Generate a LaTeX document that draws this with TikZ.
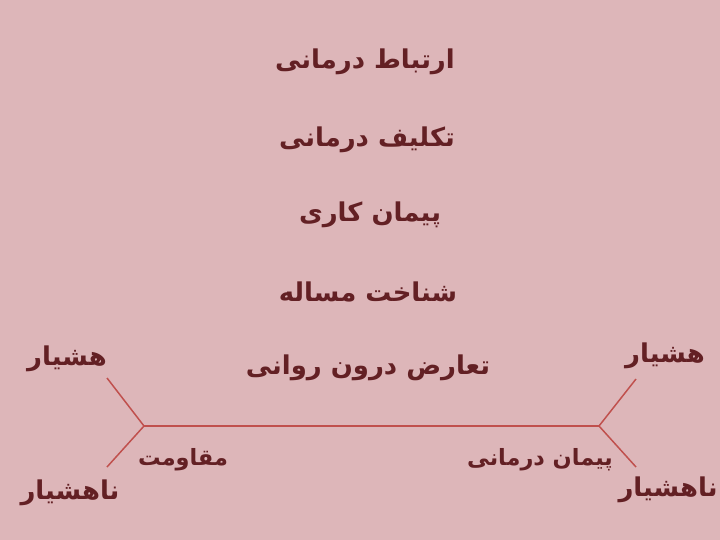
\documentclass[tikz,border=0pt]{standalone}
\usepackage{fontspec}
\newfontfamily\arabicfont[Script=Arabic]{DejaVu Sans}
\TeXXeTstate=1
\usepackage{tikz}
\usetikzlibrary{calc}
\definecolor{bgpink}{HTML}{DDB6B9}
\definecolor{inkred}{HTML}{632024}
\definecolor{linered}{HTML}{C0504D}
\tikzset{
  fa/.style={text=inkred,font=\arabicfont\bfseries\fontsize{26}{30}\selectfont,inner sep=2pt},
  fasmall/.style={fa,font=\arabicfont\bfseries\fontsize{22.5}{26}\selectfont},
  fishline/.style={draw=linered,line width=1.5pt}
}
\newcommand{\rtl}[1]{\beginR #1\endR}

\begin{document}
\begin{tikzpicture}[x=1bp,y=-1bp]
% page
\fill[bgpink] (0,0) rectangle (720,540);
\useasboundingbox (0,0) rectangle (720,540);

% list of steps
\node[fa] (ertebat) at (365,62) {\rtl{ارتباط درمانی}};
\node[fa] (taklif) at (367,140) {\rtl{تکلیف درمانی}};
\node[fa] (peyman) at (370,215) {\rtl{پیمان کاری}};
\node[fa] (shenakht) at (368,292) {\rtl{شناخت مساله}};
\node[fa] (taaroz) at (368,368) {\rtl{تعارض درون روانی}};

% fish skeleton
\coordinate (L) at (144,426);
\coordinate (R) at (599,426);
\coordinate (Lup) at (107,378);
\coordinate (Ldown) at (107,467);
\coordinate (Rup) at (636,379);
\coordinate (Rdown) at (636,467);
\draw[fishline] (Lup) -- (L) -- (Ldown);
\draw[fishline] (Rup) -- (R) -- (Rdown);
\draw[fishline] (L) -- (R);

% labels
\node[fa] (hushL) at (67,359) {\rtl{هشیار}};
\node[fa] (nahushL) at (70,493) {\rtl{ناهشیار}};
\node[fa] (hushR) at (665,356) {\rtl{هشیار}};
\node[fa] (nahushR) at (668,490) {\rtl{ناهشیار}};
\node[fasmall] (moghavemat) at (183,460) {\rtl{مقاومت}};
\node[fasmall] (peymanD) at (540,460) {\rtl{پیمان درمانی}};
\end{tikzpicture}
\end{document}
